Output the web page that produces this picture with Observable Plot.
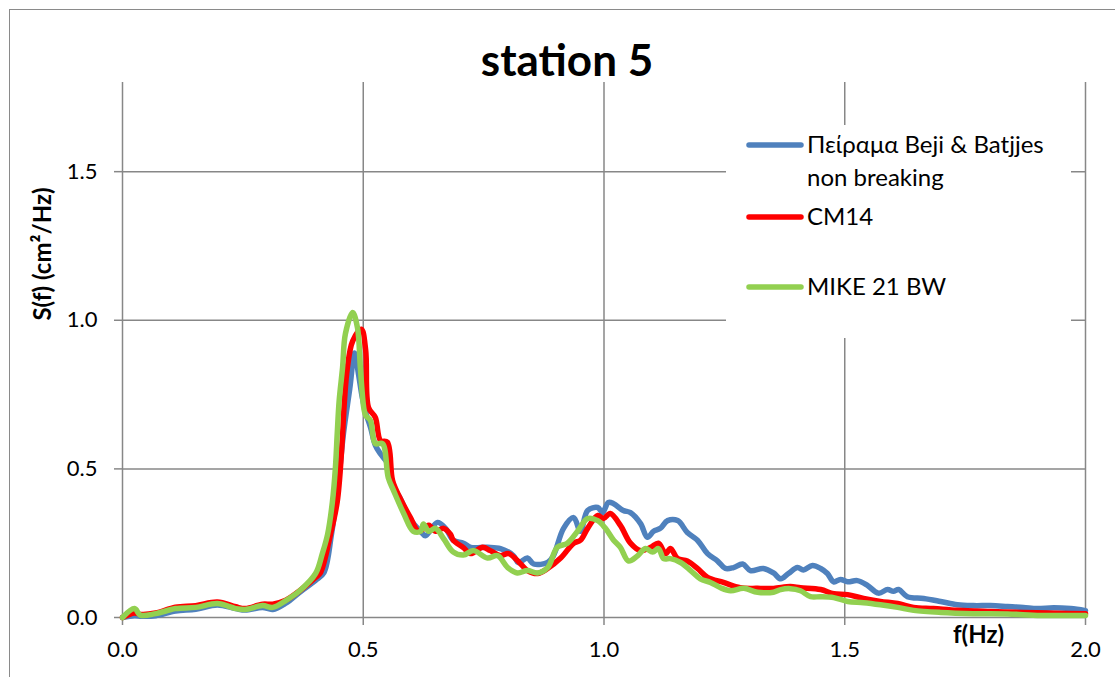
<!DOCTYPE html>
<html><head><meta charset="utf-8">
<script src="https://cdn.jsdelivr.net/npm/d3@7"></script>
<script src="https://cdn.jsdelivr.net/npm/@observablehq/plot@0.6"></script>
<style>
body{margin:0;background:#fff;}
#wrap{position:relative;width:1115px;height:677px;overflow:hidden;font-family:Lato,"Open Sans",sans-serif;background:#fff;}
#border{position:absolute;left:9px;top:9px;width:2000px;height:2000px;border-left:1.5px solid #8a8a8a;border-top:1.5px solid #8a8a8a;}
#chart{position:absolute;left:0;top:0;}
#legend{position:absolute;left:726px;top:125px;width:345px;height:213px;background:#fff;}
</style>
</head><body>
<div id="wrap"><div id="border"></div><div id="chart"></div><div id="legend"></div></div>
<script>
// ---- data ----
const title = "station 5";
const xLabel = "f(Hz)";
const yLabel = "S(f) (cm\u00b2/Hz)";
const xTicks = [0, 0.5, 1.0, 1.5, 2.0];
const yTicks = [0, 0.5, 1.0, 1.5];
const seriesNames = ["Πείραμα Beji & Batjjes non breaking", "CM14", "MIKE 21 BW"];
const legendLines = [["Πείραμα Beji & Batjjes", "non breaking"], ["CM14"], ["MIKE 21 BW"]];
const seriesColors = ["#4F81BD", "#FF0000", "#92D050"];

const expF = [0.000,0.025,0.040,0.069,0.110,0.152,0.197,0.235,0.255,0.291,0.312,0.339,0.368,0.401,0.418,0.434,0.448,0.459,0.472,0.482,0.490,0.498,0.505,0.515,0.525,0.536,0.550,0.563,0.577,0.598,0.619,0.629,0.654,0.671,0.687,0.708,0.723,0.758,0.785,0.812,0.822,0.841,0.854,0.883,0.895,0.916,0.937,0.951,0.966,0.987,0.997,1.009,1.020,1.040,1.055,1.076,1.090,1.103,1.117,1.132,1.153,1.173,1.194,1.215,1.236,1.252,1.269,1.288,1.304,1.331,1.352,1.367,1.383,1.402,1.414,1.433,1.450,1.464,1.477,1.491,1.506,1.526,1.547,1.570,1.589,1.601,1.612,1.630,1.664,1.699,1.734,1.767,1.803,1.838,1.871,1.900,1.934,1.969,2.000];
const expS = [0.000,0.006,0.004,0.006,0.022,0.028,0.042,0.030,0.025,0.034,0.027,0.048,0.085,0.125,0.150,0.280,0.450,0.620,0.770,0.890,0.820,0.740,0.690,0.640,0.580,0.550,0.520,0.440,0.400,0.330,0.290,0.275,0.320,0.300,0.260,0.250,0.236,0.236,0.232,0.208,0.185,0.200,0.180,0.185,0.208,0.300,0.336,0.290,0.360,0.370,0.353,0.387,0.383,0.360,0.353,0.316,0.270,0.290,0.300,0.326,0.326,0.286,0.260,0.215,0.190,0.165,0.168,0.180,0.158,0.165,0.150,0.130,0.148,0.168,0.160,0.175,0.165,0.148,0.120,0.128,0.120,0.124,0.108,0.082,0.094,0.088,0.094,0.070,0.064,0.054,0.043,0.040,0.040,0.037,0.034,0.030,0.033,0.030,0.023];

const cmF = [0.000,0.025,0.040,0.069,0.110,0.152,0.197,0.235,0.255,0.291,0.312,0.339,0.368,0.401,0.411,0.432,0.446,0.455,0.461,0.467,0.478,0.496,0.505,0.511,0.525,0.536,0.550,0.561,0.577,0.598,0.615,0.636,0.650,0.667,0.681,0.687,0.708,0.723,0.748,0.764,0.785,0.802,0.827,0.841,0.862,0.883,0.910,0.937,0.951,0.966,0.987,0.999,1.013,1.034,1.055,1.076,1.097,1.113,1.128,1.138,1.153,1.173,1.194,1.215,1.248,1.283,1.319,1.352,1.387,1.408,1.450,1.477,1.506,1.539,1.574,1.610,1.643,1.684,1.734,1.803,1.871,1.942,2.000];
const cmS = [0.000,0.015,0.010,0.015,0.035,0.040,0.052,0.036,0.030,0.045,0.045,0.058,0.090,0.135,0.150,0.280,0.390,0.560,0.730,0.840,0.930,0.970,0.900,0.706,0.673,0.595,0.590,0.460,0.400,0.336,0.290,0.310,0.290,0.300,0.280,0.260,0.235,0.215,0.236,0.225,0.208,0.215,0.180,0.158,0.148,0.165,0.200,0.250,0.260,0.300,0.343,0.333,0.350,0.310,0.250,0.225,0.236,0.250,0.215,0.232,0.198,0.190,0.165,0.135,0.118,0.100,0.098,0.098,0.104,0.100,0.094,0.080,0.077,0.064,0.054,0.047,0.034,0.030,0.024,0.020,0.017,0.014,0.013];

const mikeF = [0.000,0.025,0.037,0.069,0.110,0.152,0.197,0.235,0.255,0.291,0.312,0.339,0.368,0.401,0.415,0.426,0.436,0.442,0.446,0.450,0.457,0.463,0.478,0.488,0.494,0.501,0.505,0.515,0.525,0.540,0.552,0.563,0.584,0.604,0.619,0.625,0.636,0.650,0.667,0.687,0.708,0.729,0.758,0.779,0.800,0.820,0.841,0.862,0.883,0.903,0.924,0.945,0.966,0.987,1.003,1.020,1.034,1.051,1.070,1.086,1.101,1.113,1.124,1.138,1.159,1.180,1.200,1.221,1.242,1.263,1.290,1.319,1.352,1.367,1.387,1.408,1.429,1.450,1.477,1.506,1.539,1.574,1.610,1.643,1.699,1.767,1.838,1.907,2.000];
const mikeS = [0.000,0.030,0.008,0.013,0.030,0.034,0.047,0.030,0.027,0.040,0.034,0.057,0.090,0.148,0.215,0.280,0.390,0.500,0.620,0.730,0.840,0.955,1.026,0.975,0.840,0.706,0.680,0.663,0.585,0.585,0.470,0.427,0.350,0.290,0.290,0.315,0.290,0.300,0.265,0.220,0.210,0.225,0.200,0.208,0.168,0.150,0.158,0.150,0.168,0.236,0.250,0.290,0.333,0.326,0.300,0.260,0.236,0.190,0.208,0.232,0.220,0.232,0.198,0.198,0.185,0.158,0.130,0.118,0.100,0.090,0.098,0.085,0.085,0.094,0.097,0.090,0.070,0.070,0.067,0.054,0.050,0.043,0.034,0.024,0.017,0.013,0.012,0.007,0.007];

// ---- build ----
const toRows = (F, S) => F.map((f, i) => ({f, S: S[i]}));
const seriesRows = [toRows(expF, expS), toRows(cmF, cmS), toRows(mikeF, mikeS)];
const FONT = "Lato, 'Open Sans', sans-serif";
const grid = "#878787";

const chart = Plot.plot({
  width: 1115, height: 677,
  marginLeft: 122, marginRight: 30, marginTop: 82, marginBottom: 60,
  style: {background: "transparent", fontFamily: FONT, color: "#000", overflow: "visible"},
  x: {domain: [0, 2]},
  y: {domain: [0, 1.8]},
  marks: [
    Plot.gridX(xTicks, {stroke: grid, strokeOpacity: 1, strokeWidth: 1.5}),
    Plot.gridY(yTicks, {stroke: grid, strokeOpacity: 1, strokeWidth: 1.5}),
    Plot.axisX(xTicks, {tickSize: 8, tickPadding: 16, stroke: grid, strokeWidth: 1.5, strokeOpacity: 1,
      tickFormat: d3.format(".1f"), fontSize: 22, label: null}),
    Plot.axisY(yTicks, {tickSize: 8, tickPadding: 17, stroke: grid, strokeWidth: 1.5, strokeOpacity: 1,
      tickFormat: d3.format(".1f"), fontSize: 22, label: null}),
    ...seriesRows.map((rows, i) => Plot.line(rows, {x: "f", y: "S", stroke: seriesColors[i],
      strokeWidth: 5.5, curve: "catmull-rom"})),
    Plot.text([title], {frameAnchor: "top", dx: -37, dy: -7, lineAnchor: "bottom",
      fontSize: 44, fontWeight: "bold", fill: "#000"}),
    Plot.text([yLabel], {frameAnchor: "left", rotate: -90, textAnchor: "middle", dx: -79, dy: -96,
      fontSize: 24, fontWeight: "bold", fill: "#000"}),
    Plot.text([xLabel], {frameAnchor: "bottom-right", textAnchor: "middle", dx: -107, dy: 25,
      fontSize: 24, fontWeight: "bold", fill: "#000"})
  ]
});
document.getElementById("chart").appendChild(chart);

// ---- legend ----
const lg = d3.select("#legend").append("svg").attr("width", 345).attr("height", 213)
  .style("font-family", FONT);
const legendY = [20, 92, 162];
legendLines.forEach((lines, i) => {
  lg.append("line").attr("x1", 23).attr("x2", 75).attr("y1", legendY[i]).attr("y2", legendY[i])
    .attr("stroke", seriesColors[i]).attr("stroke-width", 5.5).attr("stroke-linecap", "round");
  lines.forEach((t, j) => {
    lg.append("text").attr("x", 81).attr("y", legendY[i] + 8 + j * 33)
      .attr("font-size", 24).attr("fill", "#000").text(t);
  });
});
</script>
</body></html>
